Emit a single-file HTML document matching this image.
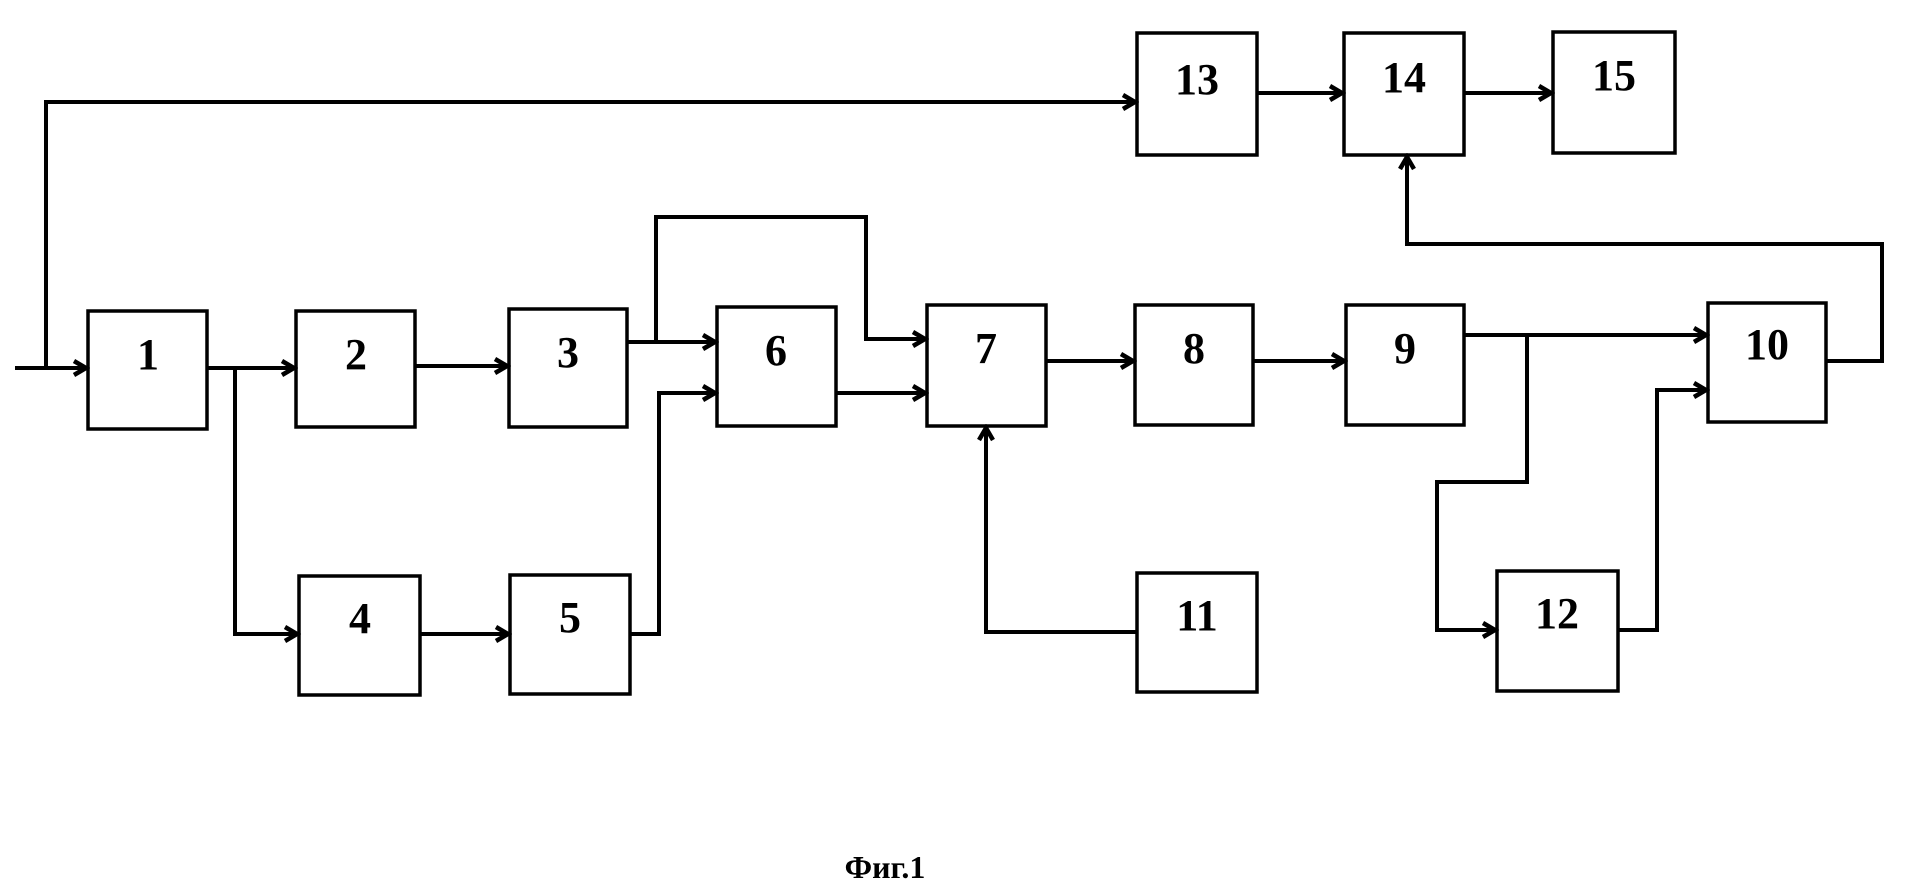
<!DOCTYPE html>
<html><head><meta charset="utf-8"><style>
html,body{margin:0;padding:0;background:#fff}
svg{display:block}
text{font-family:"Liberation Serif",serif;font-size:44px;font-weight:bold;fill:#000;text-anchor:middle}
</style></head><body>
<svg width="1913" height="893" viewBox="0 0 1913 893" xmlns="http://www.w3.org/2000/svg">
<defs><marker id="a" markerWidth="18" markerHeight="18" refX="14" refY="9" orient="auto" markerUnits="userSpaceOnUse"><path d="M2,2 L14,9 L2,16" fill="none" stroke="#000" stroke-width="4.5"/></marker></defs>
<g fill="none" stroke="#000" stroke-width="3.5">
<rect x="88" y="311" width="119" height="118"/>
<rect x="296" y="311" width="119" height="116"/>
<rect x="509" y="309" width="118" height="118"/>
<rect x="717" y="307" width="119" height="119"/>
<rect x="927" y="305" width="119" height="121"/>
<rect x="1135" y="305" width="118" height="120"/>
<rect x="1346" y="305" width="118" height="120"/>
<rect x="1708" y="303" width="118" height="119"/>
<rect x="299" y="576" width="121" height="119"/>
<rect x="510" y="575" width="120" height="119"/>
<rect x="1137" y="573" width="120" height="119"/>
<rect x="1497" y="571" width="121" height="120"/>
<rect x="1137" y="33" width="120" height="122"/>
<rect x="1344" y="33" width="120" height="122"/>
<rect x="1553" y="32" width="122" height="121"/>
</g>
<g fill="none" stroke="#000" stroke-width="4" marker-end="url(#a)">
<path d="M15,368 H86"/>
<path d="M46,368 V102 H1135"/>
<path d="M207,368 H294"/>
<path d="M235,368 V634 H297"/>
<path d="M415,366 H507"/>
<path d="M420,634 H508"/>
<path d="M627,342 H715"/>
<path d="M656,342 V217 H866 V339 H925"/>
<path d="M630,634 H659 V393 H715"/>
<path d="M836,393 H925"/>
<path d="M1046,361 H1133"/>
<path d="M1253,361 H1344"/>
<path d="M1464,335 H1706"/>
<path d="M1527,335 V482 H1437 V630 H1495"/>
<path d="M1618,630 H1657 V390 H1706"/>
<path d="M1826,361 H1882 V244 H1407 V157"/>
<path d="M1137,632 H986 V428"/>
<path d="M1257,93 H1342"/>
<path d="M1464,93 H1551"/>
</g>
<text x="148" y="369">1</text>
<text x="356" y="369">2</text>
<text x="568" y="367">3</text>
<text x="776" y="365">6</text>
<text x="986" y="363">7</text>
<text x="1194" y="363">8</text>
<text x="1405" y="363">9</text>
<text x="1767" y="359">10</text>
<text x="360" y="633">4</text>
<text x="570" y="632">5</text>
<text x="1197" y="630">11</text>
<text x="1557" y="628">12</text>
<text x="1197" y="94">13</text>
<text x="1404" y="92">14</text>
<text x="1614" y="90">15</text>
<text x="885" y="878" style="font-size:32px">Фиг.1</text>
</svg>
</body></html>
